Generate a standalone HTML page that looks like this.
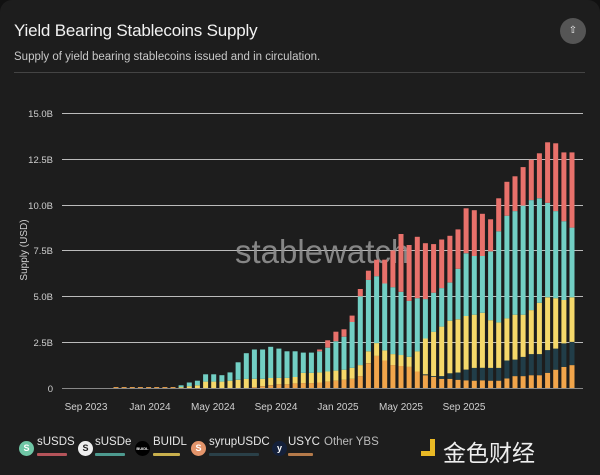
<!DOCTYPE html>
<html><head><meta charset="utf-8"><style>
body{margin:0;background:#111;}
#w{position:relative;width:600px;height:475px;background:#1d1d1d;overflow:hidden;font-family:"Liberation Sans",sans-serif;color:#ddd;border-radius:12px 12px 0 0}
.t{position:absolute;left:14px;top:21px;font-size:17px;color:#f2f2f2;letter-spacing:-0.2px}
.s{position:absolute;left:14px;top:51px;font-size:11.5px;color:#c8c8c8}
.hr{position:absolute;left:14px;top:72px;width:571px;height:1px;background:#444}
.btn{position:absolute;left:560px;top:18px;width:26px;height:26px;border-radius:50%;background:#555;color:#eee;font-size:10px;text-align:center;line-height:26px}
.lg{position:absolute;top:436px;font-size:11.5px;color:#e6e6e6}
.ic{position:absolute;top:441px;width:15px;height:15px;border-radius:50%;font-size:9px;text-align:center;line-height:15px;font-weight:bold}
.ul{position:absolute;top:453px;height:3px;border-radius:1px}
</style></head><body><div id="w">
<div class="t">Yield Bearing Stablecoins Supply</div>
<div class="s">Supply of yield bearing stablecoins issued and in circulation.</div>
<div class="hr"></div>
<div class="btn">⇧</div>
<svg id="c" width="600" height="430" style="position:absolute;left:0;top:0" font-family="Liberation Sans, sans-serif">
<g stroke="#bbb" stroke-width="1">
<line x1="62" x2="583" y1="113.5" y2="113.5"/><line x1="62" x2="583" y1="159.5" y2="159.5"/><line x1="62" x2="583" y1="205.5" y2="205.5"/><line x1="62" x2="583" y1="250.5" y2="250.5"/><line x1="62" x2="583" y1="296.5" y2="296.5"/><line x1="62" x2="583" y1="342.5" y2="342.5"/>
</g>
<g fill="#cfcfcf" font-size="9.5" text-anchor="end">
<text x="53" y="117">15.0B</text><text x="53" y="163">12.5B</text><text x="53" y="209">10.0B</text><text x="53" y="254">7.5B</text><text x="53" y="300">5.0B</text><text x="53" y="346">2.5B</text><text x="53" y="392">0</text>
</g>
<text x="0" y="0" transform="translate(27,250) rotate(-90)" fill="#cfcfcf" font-size="10" text-anchor="middle">Supply (USD)</text>
<text x="235" y="263" fill="#999" font-size="33" opacity="0.85">stablewatch</text>
<g id="bars"></g>
<line x1="62" x2="583" y1="388.5" y2="388.5" stroke="#888"/>
<g fill="#cfcfcf" font-size="10" text-anchor="middle">
<text x="86" y="410">Sep 2023</text><text x="150" y="410">Jan 2024</text><text x="213" y="410">May 2024</text><text x="276" y="410">Sep 2024</text><text x="338" y="410">Jan 2025</text><text x="401" y="410">May 2025</text><text x="464" y="410">Sep 2025</text>
</g>
</svg>
<div class="ic" style="left:19px;background:#6fc6a5;color:#fff">S</div><div class="lg" style="left:37px">sUSDS</div><div class="ul" style="left:37px;width:30px;background:#b5545a"></div>
<div class="ic" style="left:78px;background:#eee;color:#222">S</div><div class="lg" style="left:95px">sUSDe</div><div class="ul" style="left:95px;width:30px;background:#4d9a8f"></div>
<div class="ic" style="left:135px;background:#000;color:#fff;font-size:4px">BUIDL</div><div class="lg" style="left:153px">BUIDL</div><div class="ul" style="left:153px;width:27px;background:#c9b04d"></div>
<div class="ic" style="left:191px;background:#e3946a;color:#fff">S</div><div class="lg" style="left:209px">syrupUSDC</div><div class="ul" style="left:209px;width:50px;background:#2a4048"></div>
<div class="ic" style="left:272px;background:#14203a;color:#fff">y</div><div class="lg" style="left:288px">USYC</div><div class="ul" style="left:288px;width:25px;background:#b57a4a"></div>
<div class="lg" style="left:324px;color:#bbb">Other YBS</div>
<div style="position:absolute;left:421px;top:439px;width:14px;height:17px;border-right:5px solid #e9b925;border-bottom:5px solid #e9b925;box-sizing:border-box"></div>
<div style="position:absolute;left:443px;top:434px;font-size:23px;color:#eee;font-family:'Liberation Sans','Noto Sans CJK SC',sans-serif">金色财经</div>
</div>
<script>
var D=[];
for(var i=0;i<8;i++)D.push([0.05,0.05,0.05,0.05,0.05]);
var L=[[.15,.05,0],[.3,.1,0],[.4,.15,0],[.75,.35,0],[.75,.35,0],[.7,.35,0],[.85,.4,0],[1.4,.45,0],[1.9,.5,0],[2.1,.5,.05],[2.1,.5,.1],[2.25,.55,.15],[2.15,.55,.2],[2.0,.55,.2],[2.0,.6,.25]];
L.forEach(function(a){D.push([a[2],a[2],a[1],a[0],a[0]]);});
var R=[[.27,.27,.82,1.93,1.93],[.27,.27,.82,1.93,1.93],[.3,.3,.85,2.0,2.1],[.35,.35,.9,2.2,2.6],[.4,.4,.95,2.55,3.07],[.45,.45,1.0,2.8,3.2],[.5,.5,1.1,3.6,3.95],
[.65,.65,1.25,5.0,5.4],[1.35,1.35,2.0,5.9,6.4],[1.75,1.75,2.45,6.1,7.0],[1.5,1.5,2.05,5.7,7.0],[1.25,1.25,1.85,5.5,7.5],[1.2,1.2,1.8,5.25,8.4],[1.15,1.15,1.7,4.75,7.8],[.9,.9,2.0,4.9,8.25],[.7,.75,2.7,4.85,7.9],
[.6,.65,3.07,5.2,7.85],[.5,.65,3.35,5.45,8.1],[.5,.8,3.67,5.75,8.3],[.45,.85,3.75,6.5,8.65],[.42,1.0,3.93,7.35,9.8],[.4,1.1,4.0,7.2,9.7],[.42,1.1,4.1,7.2,9.5],[.4,1.1,3.7,7.45,9.2],[.4,1.1,3.58,8.55,10.35],
[.52,1.5,3.8,9.4,11.25],[.65,1.55,4.0,9.65,11.55],[.65,1.7,4.0,9.95,12.05],[.7,1.85,4.25,10.25,12.45],[.7,1.85,4.65,10.35,12.8],[.83,2.07,4.95,10.1,13.4],[1.0,2.15,4.9,9.65,13.35],[1.15,2.43,4.8,9.1,12.85],[1.25,2.52,4.95,8.75,12.85]];
D=D.concat(R);
var C=["#f1a54b","#213d48","#f5d86a","#72cfc4","#e8716b"],s='',n=D.length;
function Y(v){return 388-v*275/15;}
for(var i=0;i<n;i++){var x=116+i*(572-116)/(n-1)-2.5,p=0;
for(var k=0;k<5;k++){var v=D[i][k];if(v>p){var y0=Y(p),y1=Y(v);s+='<rect x="'+x.toFixed(1)+'" y="'+y1.toFixed(1)+'" width="5" height="'+(y0-y1).toFixed(1)+'" fill="'+C[k]+'"/>';p=v;}}}
document.getElementById('bars').innerHTML=s;
</script>
</body></html>
